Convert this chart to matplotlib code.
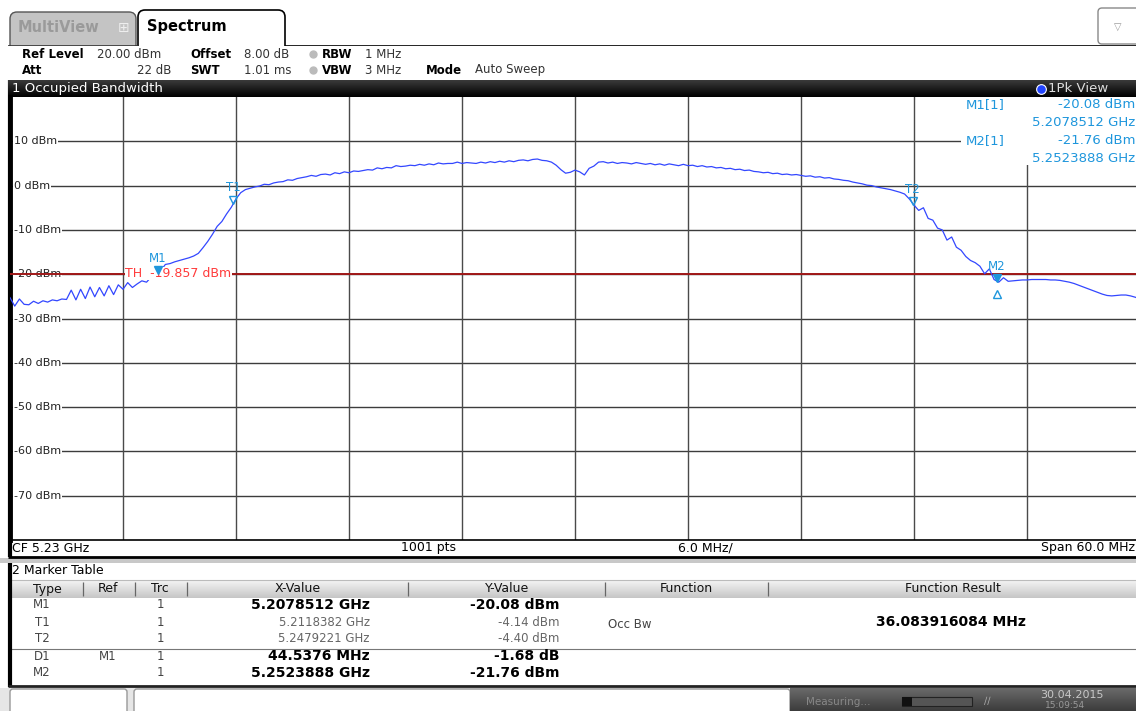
import matplotlib
matplotlib.use("Agg")
import matplotlib.pyplot as plt
import matplotlib.transforms as mtransforms
from matplotlib.patches import Rectangle, FancyBboxPatch
import numpy as np

W, H = 1136, 711

# trace 1 (1Pk View), read every 0.25 MHz from 5.200 GHz start, dBm
level_dbm = [
    -25.3, -27.2, -25.6, -26.8, -26.9, -26.1, -26.6, -26.0, -26.3, -25.8,
    -26.0, -25.6, -25.7, -23.6, -25.8, -23.4, -25.5, -22.9, -25.1, -23.0,
    -24.9, -22.6, -24.6, -22.4, -23.4, -21.9, -23.0, -22.2, -21.5, -21.8,
    -20.6, -20.1, -19.2, -17.8, -17.6, -17.2, -16.9, -16.6, -16.3, -15.9,
    -15.3, -14.0, -12.6, -11.0, -9.2, -8.1, -6.4, -4.9, -3.0, -1.6,
    -0.9, -0.6, -0.3, -0.1, 0.3, 0.2, 0.6, 0.8, 0.9, 1.3,
    1.2, 1.6, 1.8, 2.0, 2.3, 2.1, 2.5, 2.6, 2.4, 2.9,
    2.7, 3.1, 2.9, 3.3, 3.2, 3.4, 3.6, 3.5, 4.0, 3.8,
    4.1, 4.0, 4.5, 4.3, 4.4, 4.6, 4.5, 4.8, 4.6, 4.9,
    4.7, 5.1, 4.9, 5.0, 5.0, 5.3, 5.0, 5.2, 5.1, 5.0,
    5.3, 5.1, 5.4, 5.2, 5.5, 5.3, 5.6, 5.4, 5.7, 5.8,
    5.6, 5.9, 6.0, 5.7, 5.6, 5.3, 4.6, 3.6, 2.8, 3.0,
    3.5, 3.1, 2.4, 3.9, 4.4, 5.3, 5.4, 5.1, 5.3, 5.0,
    5.2, 5.1, 4.9, 5.2, 5.0, 4.8, 5.0, 4.7, 4.9, 4.6,
    4.9, 4.7, 4.5, 4.8, 4.5, 4.6, 4.3, 4.5, 4.2, 4.3,
    4.0, 4.1, 3.8, 3.9, 3.6, 3.7, 3.4, 3.5, 3.2, 3.1,
    2.9, 3.0, 2.7, 2.8, 2.5, 2.6, 2.4, 2.5, 2.3, 2.1,
    2.2, 1.9, 2.0, 1.7, 1.8, 1.5, 1.4, 1.2, 1.1, 0.8,
    0.6, 0.4, 0.1, 0.0, -0.3, -0.5, -0.7, -0.9, -1.2, -1.5,
    -1.9, -3.0, -4.4, -5.6, -5.0, -7.4, -7.8, -9.6, -10.0, -12.3,
    -11.6, -13.9, -14.6, -16.0, -16.9, -17.4, -18.2, -19.9, -18.8, -21.2,
    -21.8, -20.8, -21.6, -21.5, -21.4, -21.3, -21.3, -21.2, -21.2, -21.2,
    -21.2, -21.3, -21.3, -21.4, -21.6, -21.8, -22.1, -22.5, -22.9, -23.3,
    -23.7, -24.1, -24.5, -24.8, -24.9, -24.8, -24.7, -24.7, -24.9, -25.2,
    -25.6,
]
step_mhz = 0.25
freq_mhz = np.arange(len(level_dbm)) * step_mhz

start_ghz = 5.200
th_level = -19.857
grid_db = [10, 0, -10, -20, -30, -40, -50, -60, -70]

mk_names = ["M1", "T1", "T2", "M2"]
mk_freq_ghz = [5.2078512, 5.2118382, 5.2479221, 5.2523888]
mk_level = [-20.08, -4.14, -4.40, -21.76]
mk_filled = [True, False, False, True]

# marker table
tbl_type = ["M1", "T1", "T2", "D1", "M2"]
tbl_ref = ["", "", "", "M1", ""]
tbl_trc = ["1", "1", "1", "1", "1"]
tbl_x = ["5.2078512 GHz", "5.2118382 GHz", "5.2479221 GHz", "44.5376 MHz", "5.2523888 GHz"]
tbl_y = ["-20.08 dBm", "-4.14 dBm", "-4.40 dBm", "-1.68 dB", "-21.76 dBm"]
tbl_bold = [True, False, False, True, True]
occ_bw = "36.083916084 MHz"

BLUE = '#1e96dc'
TRACE = '#3347ff'

fig = plt.figure(figsize=(W / 100, H / 100), dpi=100)
fig.patch.set_facecolor('white')

# overlay in pixel coordinates for the instrument chrome
ov = fig.add_axes([0, 0, 1, 1], zorder=0)
ov.set_xlim(0, W)
ov.set_ylim(H, 0)
ov.axis('off')

def txt(x, y, s, **kw):
    kw.setdefault('va', 'center')
    kw.setdefault('fontsize', 8.5)
    return ov.text(x, y, s, **kw)

def hline(y, x0, x1, c='black', lw=1.0):
    ov.plot([x0, x1], [y, y], color=c, lw=lw, solid_capstyle='butt')

def vline(x, y0, y1, c='black', lw=1.0):
    ov.plot([x, x], [y0, y1], color=c, lw=lw, solid_capstyle='butt')

def gradient(x0, x1, y0, y1, c_top, c_bot, z=1):
    g = np.linspace(0, 1, 32)[:, None]
    ct = np.array(matplotlib.colors.to_rgb(c_top))
    cb = np.array(matplotlib.colors.to_rgb(c_bot))
    img = ct[None, None, :] * (1 - g[..., None]) + cb[None, None, :] * g[..., None]
    img = np.repeat(img, 2, axis=1)
    ov.imshow(img, extent=[x0, x1, y1, y0], aspect='auto', zorder=z, interpolation='bilinear')

# --- tabs
ov.add_patch(FancyBboxPatch((10, 12), 126, 45, boxstyle="round,pad=0,rounding_size=7",
                            fc='#c4c4c4', ec='#555555', lw=1, zorder=1))
ov.add_patch(FancyBboxPatch((138, 10), 147, 47, boxstyle="round,pad=0,rounding_size=7",
                            fc='white', ec='black', lw=1.2, zorder=2))
ov.add_patch(Rectangle((0, 46), W, 33, fc='white', ec='none', zorder=3))
hline(45.5, 8, 138, '#333333', 1.2)
hline(45.5, 285, W, 'black', 1.2)
txt(18, 28, "MultiView", fontsize=10.5, fontweight='bold', color='#9a9a9a', zorder=4)
txt(118, 28, "\u229e", fontsize=10, color='#eeeeee', zorder=4)
txt(147, 27, "Spectrum", fontsize=10.5, fontweight='bold', color='black', zorder=4)
ov.add_patch(FancyBboxPatch((1098, 8), 50, 36, boxstyle="round,pad=0,rounding_size=4",
                            fc='white', ec='#888888', lw=1, zorder=4))
txt(1118, 27, "\u25bd", fontsize=7, color='#999999', ha='center', zorder=5)

# --- settings rows
r1, r2 = 54, 70
for x, s, b in [(22, "Ref Level", True), (97, "20.00 dBm", False), (190, "Offset", True),
                (244, "8.00 dB", False), (322, "RBW", True), (365, "1 MHz", False)]:
    txt(x, r1, s, fontweight='bold' if b else 'normal', color='black' if b else '#333333', zorder=5)
for x, s, b in [(22, "Att", True), (190, "SWT", True), (244, "1.01 ms", False),
                (322, "VBW", True), (365, "3 MHz", False), (426, "Mode", True), (475, "Auto Sweep", False)]:
    txt(x, r2, s, fontweight='bold' if b else 'normal', color='black' if b else '#333333', zorder=5)
txt(171, r2, "22 dB", ha='right', color='#333333', zorder=5)
for y in (r1, r2):
    ov.plot([313], [y], 'o', ms=5, color='#bbbbbb', zorder=5)

# --- title bar
gradient(8, W, 80, 97, '#3a3a3a', '#000000', z=4)
txt(12, 88.5, "1 Occupied Bandwidth", fontsize=9.5, color='white', zorder=5)
ov.plot([1041], [88.5], 'o', ms=7, mfc='#2244ff', mec='white', mew=0.8, zorder=5)
txt(1048, 88.5, "1Pk View", fontsize=9.5, color='#dddddd', zorder=5)

# --- spectrum diagram
ax = fig.add_axes([10 / W, 1 - 540 / H, 1130 / W, 443 / H], zorder=2)
ax.set_xlim(0, 60)
ax.set_ylim(-80, 20)
ax.set_xticks([])
ax.set_yticks([])
ax.set_facecolor('white')
ax.spines['left'].set_linewidth(3.5)
ax.spines['bottom'].set_linewidth(1.2)
ax.spines['top'].set_visible(False)
ax.spines['right'].set_visible(False)

for d in grid_db:
    ax.axhline(d, color='#3c3c3c', lw=1.0, zorder=1)
for f in range(6, 60, 6):
    ax.axvline(f, color='#4a4a4a', lw=1.0, zorder=1)

lab_tr = mtransforms.blended_transform_factory(ov.transData, ax.transData)
for d in grid_db:
    ax.text(14, d, f"{d} dBm", transform=lab_tr, fontsize=8, va='center', ha='left',
            color='#222222', zorder=3,
            bbox=dict(fc='white', ec='none', pad=0.6))

ax.plot(freq_mhz, level_dbm, color=TRACE, lw=0.9, zorder=4)

ax.axhline(th_level, color='#a01818', lw=1.4, zorder=3.5)
ax.text(125, th_level, "TH  -19.857 dBm", transform=lab_tr, fontsize=9, va='center',
        ha='left', color='#ff3b3b', zorder=5, bbox=dict(fc='white', ec='none', pad=0.3))

for name, fg, lv, filled in zip(mk_names, mk_freq_ghz, mk_level, mk_filled):
    fx = (fg - start_ghz) * 1000
    ax.plot([fx], [lv + 1.0], marker='v', ms=6, mfc=BLUE if filled else 'none',
            mec=BLUE, mew=1.0, zorder=6)
    ax.text(fx, lv + 3.6, name, fontsize=8.5, color=BLUE, ha='center', va='center', zorder=6)
# delta marker D1 sits on M2
d1x = (mk_freq_ghz[3] - start_ghz) * 1000
ax.plot([d1x], [mk_level[3] - 2.6], marker='^', ms=6, mfc='none', mec=BLUE, mew=1.0, zorder=6)

# marker info box (top right of diagram)
ax.add_patch(Rectangle((961, 97), 200, 68, transform=ov.transData, fc='white', ec='none', zorder=2))
for y, s in [(105, "M1[1]"), (141, "M2[1]")]:
    ax.text(966, y, s, transform=ov.transData, fontsize=9.5, color=BLUE, va='center', zorder=6)
for y, s in [(105, "-20.08 dBm"), (123, "5.2078512 GHz"), (141, "-21.76 dBm"), (158, "5.2523888 GHz")]:
    ax.text(1135, y, s, transform=ov.transData, fontsize=9.5, color=BLUE, va='center',
            ha='right', zorder=6)

# --- footer of diagram
fy = 548
txt(12, fy, "CF 5.23 GHz", fontsize=9)
txt(401, fy, "1001 pts", fontsize=9)
txt(678, fy, "6.0 MHz/", fontsize=9)
txt(1135, fy, "Span 60.0 MHz", fontsize=9, ha='right')
vline(9.5, 80, 557, 'black', 3)
hline(557, 8, W, 'black', 2)
ov.add_patch(Rectangle((0, 558), W, 5, fc='#c8c8c8', ec='none', zorder=1))

# --- marker table
txt(12, 570, "2 Marker Table", fontsize=9)
gradient(10, W, 580, 598, '#f4f4f4', '#c6c6c6', z=1)
hline(580, 10, W, '#bbbbbb', 0.8)
for x in (83, 135, 187, 408, 605, 768):
    vline(x, 582, 596, '#666666', 0.9)
for x, s in [(47, "Type"), (108, "Ref"), (160, "Trc"), (298, "X-Value"), (507, "Y-Value"),
             (686, "Function"), (953, "Function Result")]:
    txt(x, 589, s, fontsize=9, ha='center', color='#111111', zorder=3)

row_y = [605, 622, 639, 656, 673]
for i, y in enumerate(row_y):
    txt(42, y, tbl_type[i], ha='center', color='#444444')
    txt(108, y, tbl_ref[i], ha='center', color='#444444')
    txt(160, y, tbl_trc[i], ha='center', color='#444444')
    if tbl_bold[i]:
        txt(370, y, tbl_x[i], ha='right', fontsize=10, fontweight='bold', color='black')
        txt(559, y, tbl_y[i], ha='right', fontsize=10, fontweight='bold', color='black')
    else:
        txt(370, y, tbl_x[i], ha='right', color='#666666')
        txt(559, y, tbl_y[i], ha='right', color='#666666')
txt(608, 624, "Occ Bw", color='#444444')
txt(951, 622, occ_bw, fontsize=10, fontweight='bold', ha='center', color='black')
hline(648.5, 10, W, '#777777', 0.8)
vline(9.5, 563, 687, 'black', 3)
hline(686, 8, W, '#222222', 2)

# --- status bar
ov.add_patch(Rectangle((0, 688), W, 23, fc='#e6e6e6', ec='none', zorder=1))
ov.add_patch(FancyBboxPatch((10, 689), 117, 30, boxstyle="round,pad=0,rounding_size=3",
                            fc='white', ec='#999999', lw=1, zorder=2))
ov.add_patch(FancyBboxPatch((134, 689), 656, 30, boxstyle="round,pad=0,rounding_size=3",
                            fc='white', ec='#999999', lw=1, zorder=2))
gradient(790, W, 688, H, '#6a6a6a', '#3c3c3c', z=2)
txt(806, 702, "Measuring...", fontsize=7.5, color='#888888', zorder=3)
ov.add_patch(Rectangle((902, 697), 70, 9, fc='#555555', ec='#222222', lw=0.8, zorder=3))
ov.add_patch(Rectangle((902, 697), 10, 9, fc='#111111', ec='none', zorder=4))
txt(984, 701, "\u2215\u2215", fontsize=7, color='#aaaaaa', zorder=3)
txt(1040, 695, "30.04.2015", fontsize=8, color='#c8c8c8', zorder=3)
txt(1045, 705.5, "15:09:54", fontsize=6.5, color='#999999', zorder=3)

fig.savefig("out.png", dpi=100)
